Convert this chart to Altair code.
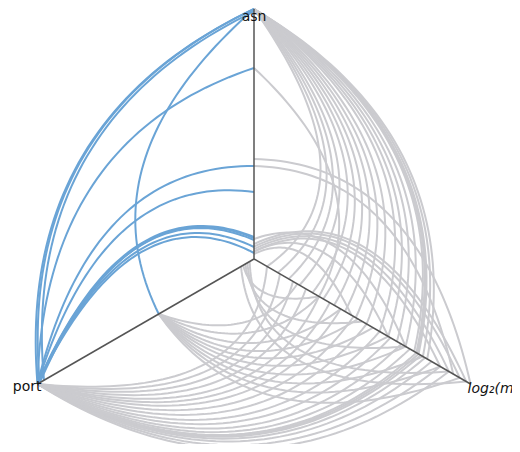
import numpy as np
import pandas as pd
import altair as alt

# ---- data (radii along each axis, 0 = centre, 1 = axis end) ----
axis_names = ["asn", "port", "log2"]
axis_angles = [90.0, 210.0, 330.0]
axis_ends = [1.0, 1.0, 1.0]

# highlighted edges asn <-> port
blue_asn = [1.0, 1.0, 0.99, 0.764, 1.0, 0.372, 0.268, 0.088, 0.084, 0.076, 0.048, 0.024]
blue_port = [1.0, 0.99, 0.97, 1.0, 0.44, 1.0, 1.0, 1.0, 0.99, 1.0, 1.0, 1.0]

# grey edges asn <-> log2
grey_al_asn = [1.0] * 20 + [0.764, 0.372, 0.40, 0.05, 0.04, 0.03, 0.03, 0.02, 0.06, 0.08]
grey_al_log = [0.80, 0.78, 0.76, 0.755, 0.75, 0.74, 0.70, 0.66, 0.62, 0.58,
               0.52, 0.47, 0.42, 0.37, 0.32, 0.27, 0.21, 0.16, 0.11, 0.06,
               0.30, 0.92, 1.0, 0.95, 0.90, 0.86, 0.62, 0.45, 0.98, 0.70]

# grey edges port <-> log2
grey_pl_port = [1.0] * 20 + [0.44] * 10 + [0.05, 0.04, 0.03, 0.02, 0.06]
grey_pl_log = [0.90, 0.86, 0.82, 0.79, 0.77, 0.76, 0.75, 0.72, 0.68, 0.63,
               0.58, 0.52, 0.46, 0.40, 0.35, 0.30, 0.24, 0.18, 0.12, 0.06,
               0.95, 0.86, 0.78, 0.70, 0.62, 0.55, 0.48, 0.40, 0.30, 0.20,
               0.30, 0.50, 0.70, 0.90, 0.98]

BULGE = 1.1  # control-point radius relative to mean radius


def polar(r, a):
    t = np.deg2rad(a)
    return np.array([r * np.cos(t), r * np.sin(t)])


def hive_link(r0, a0, r1, a1, n=50):
    p0 = polar(r0, a0)
    pc = polar(BULGE * (r0 + r1) / 2.0, (a0 + a1) / 2.0)
    p2 = polar(r1, a1)
    t = np.linspace(0, 1, n)[:, None]
    return ((1 - t) ** 2) * p0 + 2 * (1 - t) * t * pc + (t ** 2) * p2


rows = []
eid = 0


def add(r0, a0, r1, a1, grp):
    global eid
    pts = hive_link(r0, a0, r1, a1)
    for i, (x, y) in enumerate(pts):
        rows.append({"x": x, "y": y, "edge": eid, "i": i, "grp": grp})
    eid += 1


for ra, rl in zip(grey_al_asn, grey_al_log):
    add(rl, -30.0, ra, 90.0, "grey")
for rp, rl in zip(grey_pl_port, grey_pl_log):
    add(rp, 210.0, rl, 330.0, "grey")
for ra, rp in zip(blue_asn, blue_port):
    add(ra, 90.0, rp, 210.0, "blue")

edges = pd.DataFrame(rows)

axes_rows = []
for name, ang, rend in zip(axis_names, axis_angles, axis_ends):
    for j, r in enumerate([0.0, rend]):
        p = polar(r, ang)
        axes_rows.append({"x": p[0], "y": p[1], "axis": name, "i": j})
axes_df = pd.DataFrame(axes_rows)

labels = pd.DataFrame({
    "x": [polar(1.0, a)[0] for a in axis_angles],
    "y": [polar(1.0, a)[1] for a in axis_angles],
    "text": ["asn", "port", "log\u2082(megabytes)"],
})

W, H = 504, 436
cx, cy, S = 246.0, 251.0, 250.0
xs = alt.Scale(domain=[-cx / S, (W - cx) / S], nice=False, zero=False)
ys = alt.Scale(domain=[-(H - cy) / S, cy / S], nice=False, zero=False)


def X():
    return alt.X("x:Q", scale=xs, axis=None)


def Y():
    return alt.Y("y:Q", scale=ys, axis=None)


grey = alt.Chart(edges[edges.grp == "grey"]).mark_line(
    color="#cbcbcf", strokeWidth=2
).encode(x=X(), y=Y(), detail="edge:N", order="i:Q")

blue = alt.Chart(edges[edges.grp == "blue"]).mark_line(
    color="#6aa4d6", strokeWidth=2
).encode(x=X(), y=Y(), detail="edge:N", order="i:Q")

axl = alt.Chart(axes_df).mark_line(color="#555555", strokeWidth=1.5).encode(
    x=X(), y=Y(), detail="axis:N", order="i:Q"
)

lab_asn = alt.Chart(labels.iloc[[0]]).mark_text(
    font="DejaVu Sans", fontSize=14, color="#111111", align="center", baseline="top", dy=1
).encode(x=X(), y=Y(), text="text:N")
lab_port = alt.Chart(labels.iloc[[1]]).mark_text(
    font="DejaVu Sans", fontSize=14, color="#111111", align="right", baseline="middle", dx=4, dy=3
).encode(x=X(), y=Y(), text="text:N")
lab_log = alt.Chart(labels.iloc[[2]]).mark_text(
    font="DejaVu Sans", fontSize=14, fontStyle="italic", color="#111111", align="left", baseline="middle", dx=-3, dy=5
).encode(x=X(), y=Y(), text="text:N")

chart = alt.layer(grey, blue, axl, lab_asn, lab_port, lab_log).properties(
    width=W, height=H, padding=0, autosize=alt.AutoSizeParams(type="none")
).configure_view(stroke=None)

chart.save("out.html", embed_options={"renderer": "svg", "actions": False})
